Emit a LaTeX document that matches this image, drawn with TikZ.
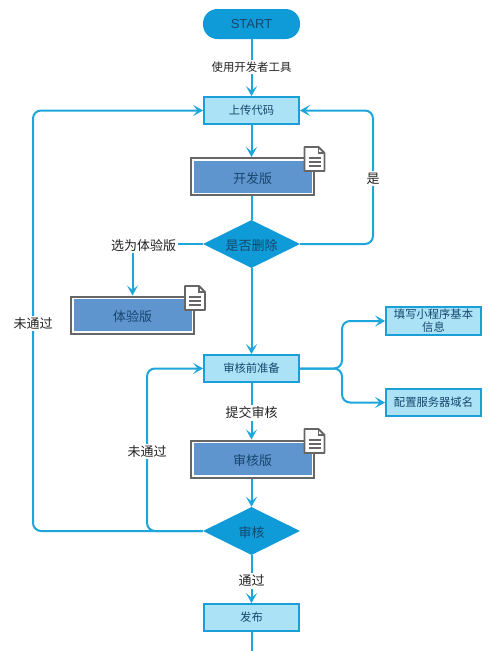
\documentclass[tikz,border=0pt]{standalone}
\usepackage{fontspec}
\setmainfont{Noto Sans CJK SC}
\newfontfamily\latinfont{Liberation Sans}
\usetikzlibrary{arrows.meta,shapes.geometric,calc}
\definecolor{linec}{HTML}{1CA6DC}
\definecolor{boxfill}{HTML}{ABE2F6}
\definecolor{boxline}{HTML}{1A9FD6}
\definecolor{diafill}{HTML}{0F9BD7}
\definecolor{docfill}{HTML}{5F95CE}
\definecolor{docline}{HTML}{666666}
\definecolor{inktext}{HTML}{17466E}
\definecolor{labtext}{HTML}{222222}
\newcommand\dn[1]{\raisebox{-1.8pt}[\height][\depth]{#1}}
\tikzset{
  x=1pt,y=-1pt,
  conn/.style={draw=linec,line width=2pt,rounded corners=8pt},
  arr/.style={conn,-{Stealth[length=10pt,width=11pt,inset=4.5pt]}},
  proc/.style={rectangle,draw=boxline,line width=1.8pt,fill=boxfill,minimum width=95pt,minimum height=27pt,inner sep=0pt,text=inktext,font=\fontsize{11.3pt}{13pt}\selectfont,align=center},
  startnode/.style={rectangle,rounded corners=14.5pt,fill=diafill,minimum width=97pt,minimum height=30pt,inner sep=0pt,text=inktext,font=\latinfont\fontsize{13pt}{15pt}\selectfont},
  decide/.style={diamond,aspect=2,fill=diafill,minimum width=97pt,minimum height=48pt,inner sep=0pt,text=inktext,font=\fontsize{13pt}{15pt}\selectfont},
  docbox/.style={rectangle,draw=docline,line width=2pt,fill=white,minimum width=123pt,minimum height=37pt,inner sep=0pt,text=inktext,font=\fontsize{13pt}{15pt}\selectfont,
    path picture={\fill[docfill] ($(path picture bounding box.south west)+(2.5,-2.5)$) rectangle ($(path picture bounding box.north east)+(-2.5,2.5)$);}},
  lab/.style={fill=white,inner sep=1.5pt,text=labtext,font=\fontsize{13pt}{15pt}\selectfont},
  labsmall/.style={lab,font=\fontsize{11.4pt}{13pt}\selectfont},
  pics/docicon/.style={code={
    \draw[draw=docline,line width=1.8pt,fill=white,line join=round]
      (-10,-12) -- (4,-12) -- (10,-6) -- (10,12) -- (-10,12) -- cycle;
    \draw[draw=docline,line width=1.1pt] (4,-12) -- (4,-6) -- (10,-6);
    \draw[draw=docline,line width=1.5pt] (-6,-1) -- (6,-1) (-6,3) -- (6,3) (-6,7) -- (6,7);
  }}
}
\begin{document}
\begin{tikzpicture}
\useasboundingbox[fill=white] (0,0) rectangle (500,651);
\node[startnode] (start) at (251.5,24) {START};
\node[proc] (upload) at (251.5,110.5) {上传代码};
\node[docbox] (dev) at (252.5,176.5) {\dn{开发版}};
\node[decide] (del) at (251.5,244) {\dn{是否删除}};
\node[docbox] (exp) at (132.5,315) {\dn{体验版}};
\node[proc] (prep) at (251.5,368.5) {审核前准备};
\node[proc,minimum height=28pt,font=\fontsize{11.3pt}{13pt}\selectfont] (fill) at (433.5,321) {填写小程序基本\\信息};
\node[proc] (domain) at (433.5,402.5) {配置服务器域名};
\node[docbox] (review) at (252.5,459) {\dn{审核版}};
\node[decide] (audit) at (251.5,531) {\dn{审核}};
\node[proc] (pub) at (251.5,617.5) {发布};
\coordinate (end) at (251.5,651);
\coordinate (trunkr) at (342,368.5);

\pic at (314.5,159) {docicon};
\pic at (195,298) {docicon};
\pic at (314.5,441) {docicon};

\node[labsmall] (ltool) at (251.5,67) {使用开发者工具};
\node[lab] (lchoose) at (143.5,245.5) {选为体验版};
\node[lab] (lyes) at (373,178.5) {是};
\node[lab] (lfail) at (33,323.5) {未通过};
\node[lab] (lfail2) at (147,451.5) {未通过};
\node[lab] (lsubmit) at (251.5,413) {提交审核};
\node[lab] (lpass) at (251.5,581) {通过};

\draw[conn] (start) -- (ltool);
\draw[arr] (ltool) -- (upload);
\draw[arr] (upload.south) -- (upload.south |- dev.north);
\draw[conn] (dev.south -| del.north) -- (del.north);
\draw[arr] (del) -- (prep);
\draw[conn] (del.west) -- (lchoose.east |- del.west);
\draw[arr] (lchoose.south -| exp) -- (exp);
\draw[conn] (del.east) -| (lyes.south);
\draw[arr] (lyes.north) |- (upload.east);
\draw[conn] (audit.west) -| (lfail.south);
\draw[arr] (lfail.north) |- (upload.west);
\draw[conn] (audit.west) -| (lfail2.south);
\draw[arr] (lfail2.north) |- (prep.west);
\draw[conn] (prep) -- (lsubmit);
\draw[arr] (lsubmit) -- (review.north -| lsubmit);
\draw[arr] (review.south -| audit.north) -- (audit.north);
\draw[conn] (audit) -- (lpass);
\draw[arr] (lpass) -- (pub);
\draw[conn] (pub) -- (end);
\draw[arr] (prep.east) -- (trunkr) |- (fill.west);
\draw[arr] (prep.east) -- (trunkr) |- (domain.west);
\end{tikzpicture}
\end{document}
